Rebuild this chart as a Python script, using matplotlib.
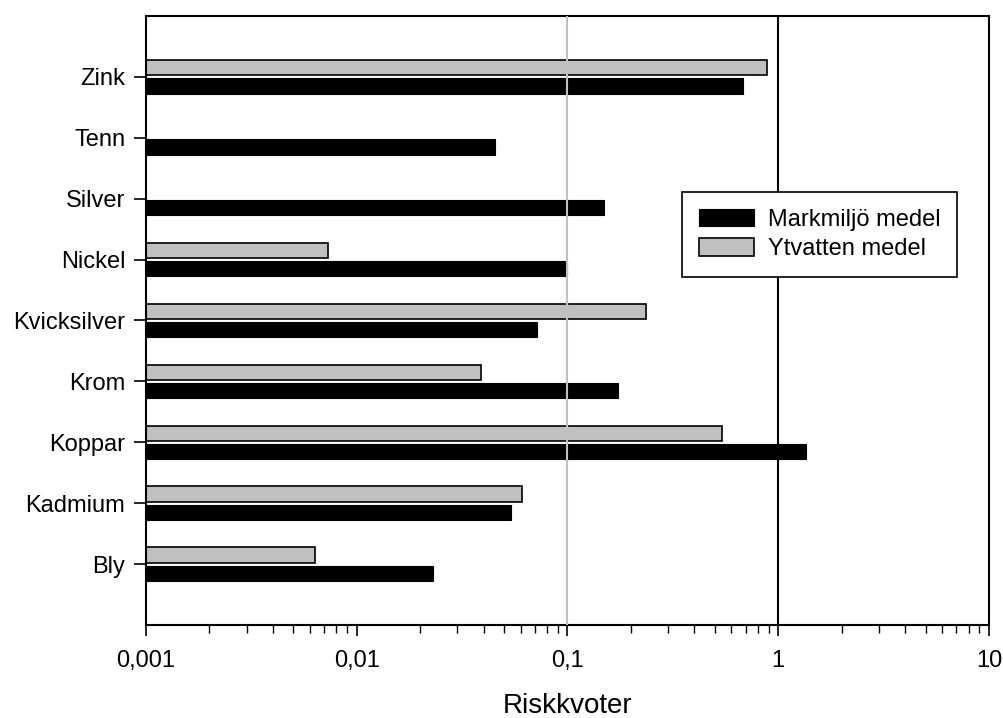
import matplotlib
matplotlib.use("Agg")
import matplotlib.pyplot as plt
import numpy as np

plt.rcParams["font.family"] = ["Liberation Sans", "DejaVu Sans"]

# ============================================================
# Data
# ============================================================
categories = ["Bly", "Kadmium", "Koppar", "Krom", "Kvicksilver",
              "Nickel", "Silver", "Tenn", "Zink"]
markmiljo = [0.0221, 0.053, 1.36, 0.172, 0.0708, 0.099, 0.1475, 0.0444, 0.678]
ytvatten = [0.00537, 0.0598, 0.54, 0.0377, 0.2355, 0.00628, np.nan, np.nan, 0.885]

xticks = [0.001, 0.01, 0.1, 1, 10]
xtick_labels = ["0,001", "0,01", "0,1", "1", "10"]

# ============================================================
# Figure
# ============================================================
fig = plt.figure(figsize=(10.04, 7.18), dpi=100)
ax = fig.add_axes([146 / 1004, 1 - 625 / 718, 843 / 1004, 609 / 718])

y = np.arange(len(categories))
h = 0.25
off = 0.15

ax.barh(y - off, markmiljo, height=h, left=0.001, color="black",
        edgecolor="black", linewidth=0.8, label="Markmiljö medel", zorder=2)
ax.barh(y + off, ytvatten, height=h, left=0.001, color="#c0c0c0",
        edgecolor="black", linewidth=1.2, label="Ytvatten medel", zorder=2)

# reference lines
ax.axvline(0.1, color="#c0c0c0", lw=1.5, zorder=3)
ax.axvline(1, color="black", lw=1.5, zorder=3)

ax.set_xscale("log")
ax.set_xlim(0.001, 10)
ax.set_ylim(-1, len(categories))

ax.set_xticks(xticks)
ax.set_xticklabels(xtick_labels)
ax.set_yticks(y)
ax.set_yticklabels(categories)

ax.tick_params(axis="x", which="major", direction="out", length=8,
               width=1.2, pad=10, labelsize=17)
ax.tick_params(axis="x", which="minor", direction="out", length=6, width=1.0)
ax.tick_params(axis="y", direction="out", length=9, width=1.2, pad=6,
               labelsize=17)

for sp in ax.spines.values():
    sp.set_linewidth(1.5)
    sp.set_color("black")

ax.set_xlabel("Riskkvoter", fontsize=20, labelpad=15)

# ============================================================
# Legend
# ============================================================
leg = ax.legend(
    loc="upper left",
    bbox_to_anchor=(0.636, 0.711),
    borderaxespad=0,
    fontsize=17,
    fancybox=False,
    framealpha=1,
    handlelength=2.33,
    handleheight=0.76,
    labelspacing=0.32,
    borderpad=0.7,
    handletextpad=0.6,
)
leg.get_frame().set_edgecolor("black")
leg.get_frame().set_linewidth(1.2)
leg.set_zorder(5)

fig.savefig("out.png", dpi=100)
